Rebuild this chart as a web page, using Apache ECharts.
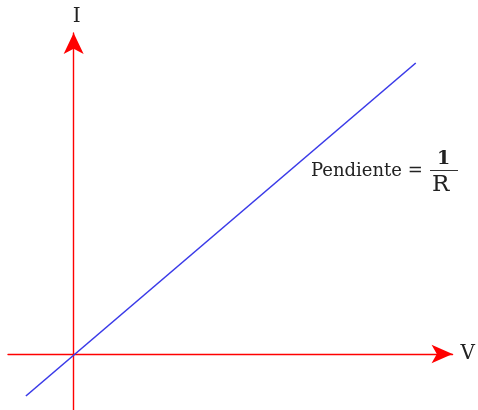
<!DOCTYPE html>
<html>
<head>
<meta charset="utf-8">
<script src="https://cdn.jsdelivr.net/npm/echarts@6/dist/echarts.min.js"></script>
<style>
  html, body { margin: 0; padding: 0; background: #fff; }
  #chart { width: 478px; height: 410px; }
</style>
</head>
<body>
<div id="chart"></div>
<script>
// ejes en unidades de pixel, origen en el cruce
const xRange = [-66, 381]
const yRange = [-56, 321]
const axisNames = ['V', 'I']
// recta I = V / R
const lineV = [-48, 344]
const lineI = [-42, 291]
const slopeLabel = 'Pendiente = '
const fracTop = '1'
const fracBottom = 'R'

const chart = echarts.init(document.getElementById('chart'))

const axisRed = '#ff0000'
const serif = 'DejaVu Serif'

chart.setOption({
  animation: false,
  grid: { left: 8, right: 23, top: 33, bottom: 0, containLabel: false },
  xAxis: {
    type: 'value',
    min: xRange[0],
    max: xRange[1],
    name: axisNames[0],
    nameLocation: 'end',
    nameGap: 8,
    nameTextStyle: { fontFamily: serif, fontSize: 20, color: '#222' },
    axisLine: {
      onZero: true,
      symbol: ['none', 'arrow'],
      symbolSize: [14, 21],
      lineStyle: { color: axisRed, width: 1.4 }
    },
    axisTick: { show: false },
    axisLabel: { show: false },
    splitLine: { show: false }
  },
  yAxis: {
    type: 'value',
    min: yRange[0],
    max: yRange[1],
    name: axisNames[1],
    nameLocation: 'end',
    nameGap: 6,
    nameTextStyle: { fontFamily: serif, fontSize: 20, color: '#222', padding: [0, 0, 0, 6] },
    axisLine: {
      onZero: true,
      symbol: ['none', 'arrow'],
      symbolSize: [15, 21],
      lineStyle: { color: axisRed, width: 1.4 }
    },
    axisTick: { show: false },
    axisLabel: { show: false },
    splitLine: { show: false }
  },
  series: [
    {
      type: 'line',
      data: lineV.map((v, i) => [v, lineI[i]]),
      showSymbol: false,
      lineStyle: { color: '#3a3ae8', width: 1.6 },
      z: 1
    }
  ],
  graphic: [
    {
      type: 'text',
      left: 311,
      top: 162,
      style: { text: slopeLabel, font: '18px "DejaVu Serif"', fill: '#222' }
    },
    {
      type: 'text',
      left: 437,
      top: 150,
      style: { text: fracTop, font: 'bold 19px "DejaVu Serif"', fill: '#222' }
    },
    {
      type: 'line',
      shape: { x1: 430, y1: 170.5, x2: 458, y2: 170.5 },
      style: { stroke: '#333', lineWidth: 1 }
    },
    {
      type: 'text',
      left: 432,
      top: 174,
      style: { text: fracBottom, font: '23px "DejaVu Serif"', fill: '#222' }
    }
  ]
})
</script>
</body>
</html>
